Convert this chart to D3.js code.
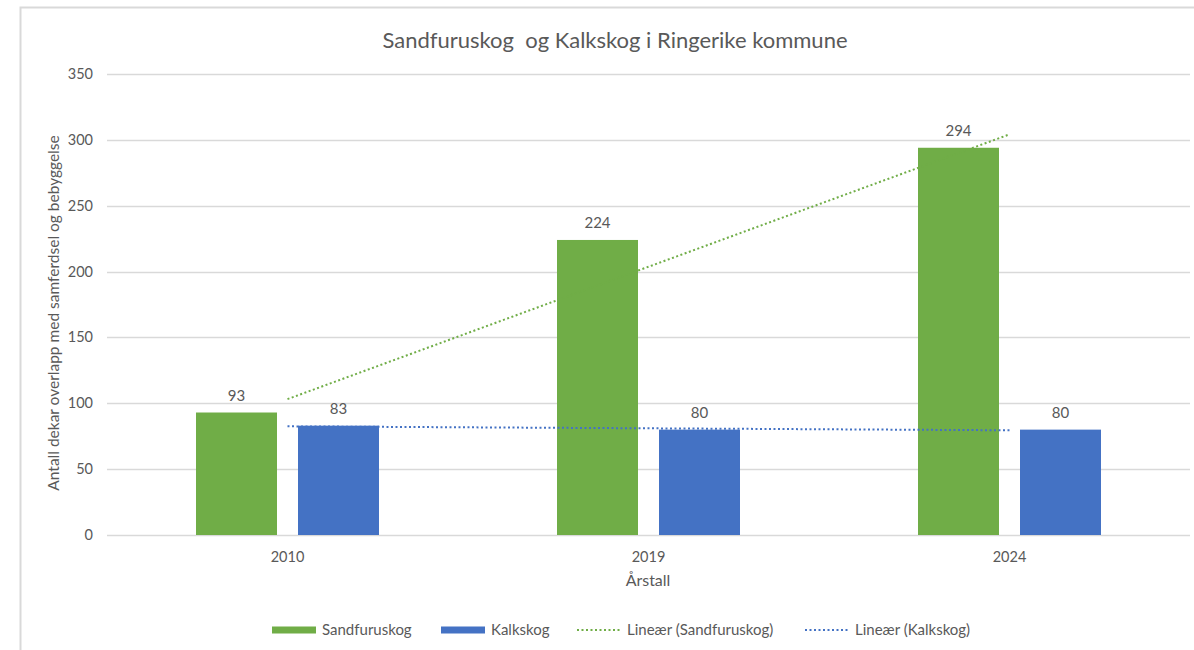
<!DOCTYPE html>
<html>
<head>
<meta charset="utf-8">
<script src="https://cdn.jsdelivr.net/npm/d3@7"></script>
<style>
  body { margin: 0; background: #fff; }
  svg text { font-family: Lato, "Open Sans", sans-serif; fill: #595959; white-space: pre; }
</style>
</head>
<body>
<svg id="chart" width="1194" height="650"></svg>
<script>
// data
var years = ["2010", "2019", "2024"];
var sandfuruskog = [93, 224, 294];
var kalkskog = [83, 80, 80];
var yTicks = [0, 50, 100, 150, 200, 250, 300, 350];

var green = "#70ad47", blue = "#4472c4", grid = "#d9d9d9";

var svg = d3.select("#chart");

// chart frame (light border on top and left)
svg.append("path")
  .attr("d", "M20.5,650 L20.5,7.5 L1194,7.5")
  .attr("fill", "none")
  .attr("stroke", grid)
  .attr("stroke-width", 2);

var plot = { left: 107, right: 1190, top: 74, bottom: 535 };

var x = d3.scaleBand()
  .domain(years)
  .range([plot.left, plot.right]);

var y = d3.scaleLinear()
  .domain([0, 350])
  .range([plot.bottom, plot.top]);

// two bars side by side inside each category
var barW = 81, barGap = 21;
var inner = d3.scaleBand()
  .domain(["s", "k"])
  .range([x.bandwidth() / 2 - barW - barGap / 2, x.bandwidth() / 2 + barW + barGap / 2])
  .paddingInner(barGap / (barW + barGap));

// gridlines
svg.append("g").selectAll("line")
  .data(yTicks)
  .join("line")
  .attr("x1", plot.left)
  .attr("x2", plot.right)
  .attr("y1", function(d) { return Math.round(y(d)) + 0.5; })
  .attr("y2", function(d) { return Math.round(y(d)) + 0.5; })
  .attr("stroke", grid)
  .attr("stroke-width", 1.5);

// y tick labels
svg.append("g").selectAll("text")
  .data(yTicks)
  .join("text")
  .attr("x", 93)
  .attr("y", function(d) { return y(d) + 5; })
  .attr("text-anchor", "end")
  .attr("font-size", 14.5)
  .text(function(d) { return d; });

// x tick labels
svg.append("g").selectAll("text")
  .data(years)
  .join("text")
  .attr("x", function(d) { return x(d) + x.bandwidth() / 2; })
  .attr("y", 562)
  .attr("text-anchor", "middle")
  .attr("font-size", 14.5)
  .text(function(d) { return d; });

// bars
var series = [
  { key: "s", name: "Sandfuruskog", values: sandfuruskog, color: green },
  { key: "k", name: "Kalkskog", values: kalkskog, color: blue }
];

series.forEach(function(s) {
  var g = svg.append("g");
  g.selectAll("rect")
    .data(s.values)
    .join("rect")
    .attr("x", function(d, i) { return x(years[i]) + inner(s.key); })
    .attr("y", function(d) { return y(d); })
    .attr("width", inner.bandwidth())
    .attr("height", function(d) { return y(0) - y(d); })
    .attr("fill", s.color);
  g.selectAll("text")
    .data(s.values)
    .join("text")
    .attr("x", function(d, i) { return x(years[i]) + inner(s.key) + inner.bandwidth() / 2; })
    .attr("y", function(d) { return y(d) - 12; })
    .attr("text-anchor", "middle")
    .attr("font-size", 15)
    .text(function(d) { return d; });
});

// linear trendlines (least squares on category index), drawn at category centres
function trend(vals) {
  var n = vals.length;
  var xs = d3.range(1, n + 1);
  var mx = d3.mean(xs), my = d3.mean(vals);
  var b = d3.sum(xs, function(xi, i) { return (xi - mx) * (vals[i] - my); }) /
          d3.sum(xs, function(xi) { return (xi - mx) * (xi - mx); });
  var a = my - b * mx;
  return [[years[0], a + b * 1], [years[n - 1], a + b * n]];
}

series.forEach(function(s) {
  var pts = trend(s.values);
  svg.append("line")
    .attr("x1", x(pts[0][0]) + x.bandwidth() / 2)
    .attr("y1", y(pts[0][1]))
    .attr("x2", x(pts[1][0]) + x.bandwidth() / 2)
    .attr("y2", y(pts[1][1]))
    .attr("stroke", s.color)
    .attr("stroke-width", 2)
    .attr("stroke-dasharray", "2,2.5");
});

// title
svg.append("text")
  .attr("x", 615)
  .attr("y", 48)
  .attr("text-anchor", "middle")
  .attr("font-size", 22)
  .text("Sandfuruskog  og Kalkskog i Ringerike kommune");

// axis titles
svg.append("text")
  .attr("x", 648)
  .attr("y", 586)
  .attr("text-anchor", "middle")
  .attr("font-size", 16)
  .text("Årstall");

svg.append("text")
  .attr("transform", "translate(59,313) rotate(-90)")
  .attr("text-anchor", "middle")
  .attr("font-size", 15.5)
  .text("Antall dekar overlapp med samferdsel og bebyggelse");

// legend
var legendItems = [
  { name: "Sandfuruskog", color: green, type: "rect", x: 272 },
  { name: "Kalkskog", color: blue, type: "rect", x: 441 },
  { name: "Lineær (Sandfuruskog)", color: green, type: "line", x: 577 },
  { name: "Lineær (Kalkskog)", color: blue, type: "line", x: 805 }
];

var leg = svg.append("g").selectAll("g")
  .data(legendItems)
  .join("g")
  .attr("transform", function(d) { return "translate(" + d.x + ",630)"; });

leg.filter(function(d) { return d.type === "rect"; })
  .append("rect")
  .attr("x", 0).attr("y", -3.5)
  .attr("width", 44).attr("height", 7)
  .attr("fill", function(d) { return d.color; });

leg.filter(function(d) { return d.type === "line"; })
  .append("line")
  .attr("x1", 0).attr("x2", 44)
  .attr("y1", 0).attr("y2", 0)
  .attr("stroke", function(d) { return d.color; })
  .attr("stroke-width", 2)
  .attr("stroke-dasharray", "2,2.5");

leg.append("text")
  .attr("x", 50)
  .attr("y", 5)
  .attr("font-size", 15)
  .text(function(d) { return d.name; });
</script>
</body>
</html>
